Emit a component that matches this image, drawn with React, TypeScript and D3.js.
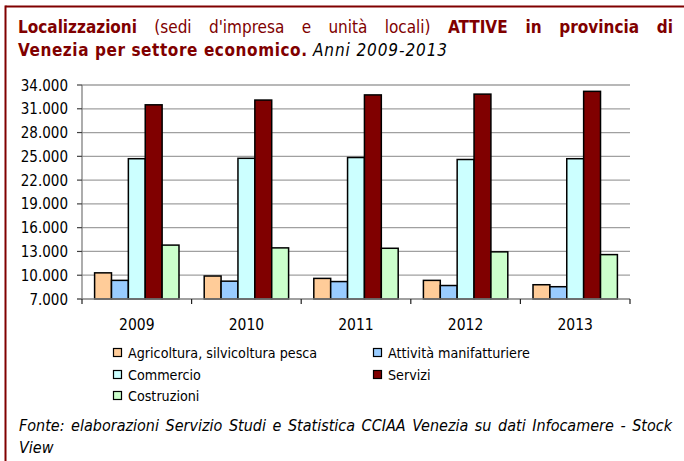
import React, { useRef, useEffect } from "react";
import * as d3 from "d3";

const years = ["2009", "2010", "2011", "2012", "2013"];
const sectors = [
  "Agricoltura, silvicoltura pesca",
  "Attività manifatturiere",
  "Commercio",
  "Servizi",
  "Costruzioni",
];
const sectorColors = ["#FFCC99", "#99CCFF", "#CCFFFF", "#800000", "#CCFFCC"];

// valori per anno, nello stesso ordine dei settori
const agricoltura = [10300, 9900, 9600, 9350, 8800];
const manifatturiere = [9350, 9250, 9200, 8700, 8550];
const commercio = [24700, 24750, 24850, 24600, 24700];
const servizi = [31500, 32100, 32750, 32850, 33200];
const costruzioni = [13800, 13450, 13400, 12950, 12600];
const seriesValues = [agricoltura, manifatturiere, commercio, servizi, costruzioni];

const yTicks = [7000, 10000, 13000, 16000, 19000, 22000, 25000, 28000, 31000, 34000];

const W = 684;
const H = 461;
const FONT = "Tahoma, 'DejaVu Sans Condensed', 'DejaVu Sans', sans-serif";
const RED = "#800000";

const App = () => {
  const ref = useRef<SVGSVGElement>(null);

  useEffect(() => {
    document.body.style.margin = "0";
    const svg = d3.select(ref.current);
    svg.selectAll("*").remove();

    // cornice
    svg.append("line").attr("x1", 5.5).attr("x2", 5.5).attr("y1", 5.5).attr("y2", H)
      .attr("stroke", RED).attr("stroke-width", 2);
    svg.append("line").attr("x1", 5.5).attr("x2", W).attr("y1", 6.5).attr("y2", 6.5)
      .attr("stroke", RED).attr("stroke-width", 2);

    // testo giustificato
    const justify = (sel: any, target: number) => {
      const node = sel.node() as SVGTextElement;
      const natural = node.getComputedTextLength();
      const txt = node.textContent || "";
      const spaces = (txt.match(/ /g) || []).length;
      if (spaces > 0) sel.attr("word-spacing", (target - natural) / spaces);
    };

    const t1 = svg.append("text").attr("x", 18).attr("y", 33)
      .style("font-family", FONT).style("font-size", "17px").attr("fill", RED)
      .attr("xml:space", "preserve");
    t1.append("tspan").attr("font-weight", "bold").text("Localizzazioni");
    t1.append("tspan").text(" (sedi d'impresa e unità locali) ");
    t1.append("tspan").attr("font-weight", "bold").text("ATTIVE in provincia di");
    justify(t1, 655);

    const t2 = svg.append("text").attr("y", 56)
      .style("font-family", FONT).style("font-size", "17px").attr("fill", RED);
    t2.append("tspan").attr("x", 18).attr("font-weight", "bold")
      .attr("textLength", 289).attr("lengthAdjust", "spacing")
      .text("Venezia per settore economico.");
    t2.append("tspan").attr("x", 313).attr("font-style", "italic").attr("fill", "#000")
      .attr("textLength", 134).attr("lengthAdjust", "spacing")
      .text("Anni 2009-2013");

    // area del grafico
    const left = 82, right = 630, top = 85, bottom = 299;
    const y = d3.scaleLinear().domain([7000, 34000]).range([bottom, top]);
    const x0 = d3.scaleBand().domain(years).range([left, right]).paddingInner(0.23).paddingOuter(0.115);
    const x1 = d3.scaleBand().domain(sectors).range([0, x0.bandwidth()]).padding(0);

    const g = svg.append("g");
    g.selectAll("line.grid")
      .data(yTicks.slice(1))
      .enter().append("line")
      .attr("x1", left).attr("x2", right)
      .attr("y1", (d) => y(d)).attr("y2", (d) => y(d))
      .attr("stroke", "#a0a0a0").attr("stroke-width", 1.3);

    const groups = g.selectAll("g.year")
      .data(years)
      .enter().append("g")
      .attr("transform", (d) => `translate(${x0(d)},0)`);
    groups.selectAll("rect")
      .data((d, i) => sectors.map((s, j) => ({ s, j, v: seriesValues[j][i] })))
      .enter().append("rect")
      .attr("x", (d) => x1(d.s)!)
      .attr("width", x1.bandwidth())
      .attr("y", (d) => y(d.v))
      .attr("height", (d) => bottom - y(d.v))
      .attr("fill", (d) => sectorColors[d.j])
      .attr("stroke", "#000").attr("stroke-width", 1.5);

    // asse y
    g.append("line").attr("x1", left).attr("x2", left).attr("y1", top).attr("y2", bottom)
      .attr("stroke", "#808080").attr("stroke-width", 1.3);
    g.selectAll("line.ytick").data(yTicks).enter().append("line")
      .attr("x1", left - 5).attr("x2", left).attr("y1", (d) => y(d)).attr("y2", (d) => y(d))
      .attr("stroke", "#404040").attr("stroke-width", 1.2);
    const fmt = d3.formatLocale({ decimal: ",", thousands: ".", grouping: [3], currency: ["€", ""] }).format(",");
    g.selectAll("text.ylab").data(yTicks).enter().append("text")
      .attr("x", 68).attr("y", (d) => y(d) + 5.5)
      .attr("text-anchor", "end")
      .style("font-family", FONT).style("font-size", "15px")
      .text((d) => fmt(d));

    // asse x
    g.append("line").attr("x1", left - 5).attr("x2", right).attr("y1", bottom).attr("y2", bottom)
      .attr("stroke", "#808080").attr("stroke-width", 1.5);
    const bounds = years.map((d) => x0(d)! - x0.step() * 0.115).concat([right]);
    g.selectAll("line.xtick").data(bounds).enter().append("line")
      .attr("x1", (d) => d).attr("x2", (d) => d).attr("y1", bottom).attr("y2", bottom + 5)
      .attr("stroke", "#202020").attr("stroke-width", 1.2);
    g.selectAll("text.xlab").data(years).enter().append("text")
      .attr("x", (d) => x0(d)! + x0.bandwidth() / 2).attr("y", 330)
      .attr("text-anchor", "middle")
      .style("font-family", FONT).style("font-size", "15.5px")
      .text((d) => d);

    // legenda
    const legPos = [
      [113, 348], [373, 348],
      [113, 370], [373, 370],
      [113, 391],
    ];
    const leg = svg.selectAll("g.leg").data(sectors).enter().append("g")
      .attr("transform", (d, i) => `translate(${legPos[i][0]},${legPos[i][1]})`);
    leg.append("rect").attr("x", 0.5).attr("y", 0.5).attr("width", 8).attr("height", 8)
      .attr("fill", (d, i) => sectorColors[i]).attr("stroke", "#000").attr("stroke-width", 1.2);
    leg.append("text").attr("x", 15).attr("y", 9.5)
      .style("font-family", FONT).style("font-size", "14.2px")
      .text((d) => d);

    // fonte
    const f1 = svg.append("text").attr("x", 19).attr("y", 431)
      .style("font-family", FONT).style("font-size", "16px").attr("font-style", "italic")
      .text("Fonte: elaborazioni Servizio Studi e Statistica CCIAA Venezia su dati Infocamere - Stock");
    justify(f1, 653);
    svg.append("text").attr("x", 19).attr("y", 453)
      .style("font-family", FONT).style("font-size", "16px").attr("font-style", "italic")
      .text("View");
  }, []);

  return (
    <svg ref={ref} width={W} height={H} style={{ display: "block", background: "#fff" }} />
  );
};

export default App;
